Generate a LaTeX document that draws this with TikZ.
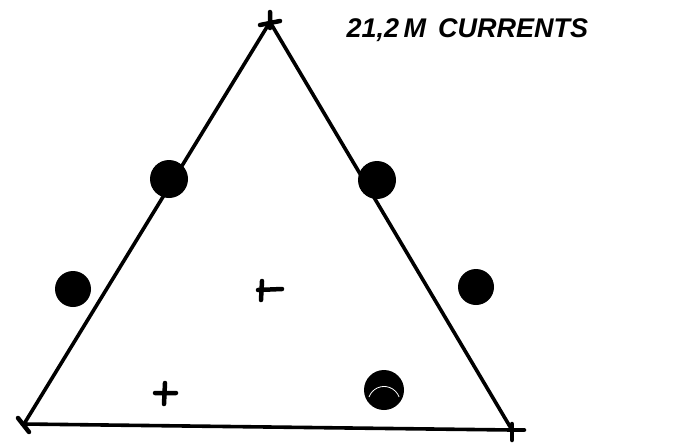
\documentclass[tikz,border=0pt]{standalone}
\usepackage{fontspec}
\setmainfont{Liberation Sans}
\usetikzlibrary{calc}
\begin{document}
\begin{tikzpicture}[x=1pt,y=-1pt,
  edge/.style={line width=3.6pt,line cap=round},
  charge/.style={circle,fill=black,inner sep=0pt,minimum size=#1},
  signstroke/.style={line width=4.5pt,line cap=round}]
\useasboundingbox (0,0) rectangle (676,447);
\fill[white] (0,0) rectangle (676,447);
\coordinate (T) at (270,22);
\coordinate (BL) at (24,424);
\coordinate (BR) at (512,430);
\draw[edge] (T) -- (BL) -- (BR) -- cycle;
% vertex crosses
\draw[signstroke] ($(T)+(-10,3)$) -- ($(T)+(10,-1)$) ($(T)+(0,-10)$) -- ($(T)+(0,6)$);
\draw[signstroke] ($(BL)+(-6,-6)$) -- ($(BL)+(5,8)$);
\draw[signstroke] ($(BR)+(0,0)$) -- ($(BR)+(12,0)$) ($(BR)+(0,-6)$) -- ($(BR)+(0,10)$);
% charges
\node[charge=38pt] (d1) at (169,179) {};
\node[charge=38pt] (d2) at (377,180) {};
\node[charge=36pt] (d3) at (73,289) {};
\node[charge=36pt] (d4) at (476,287) {};
\node[charge=40pt] (d5) at (384,390) {};
\draw[white,line width=0.8pt] (369,397) arc (200:340:16);
% signs
\draw[signstroke] (155,393) -- (176,393) (165,383) -- (164,404);
\draw[signstroke] (258,290) -- (282,289);
\draw[signstroke] (262,281) -- (261,300);
\node[anchor=west,font=\bfseries\itshape\fontsize{27}{30}\selectfont] (lbl) at (343,30) {21,2\,M\, CURRENTS};
\end{tikzpicture}
\end{document}
